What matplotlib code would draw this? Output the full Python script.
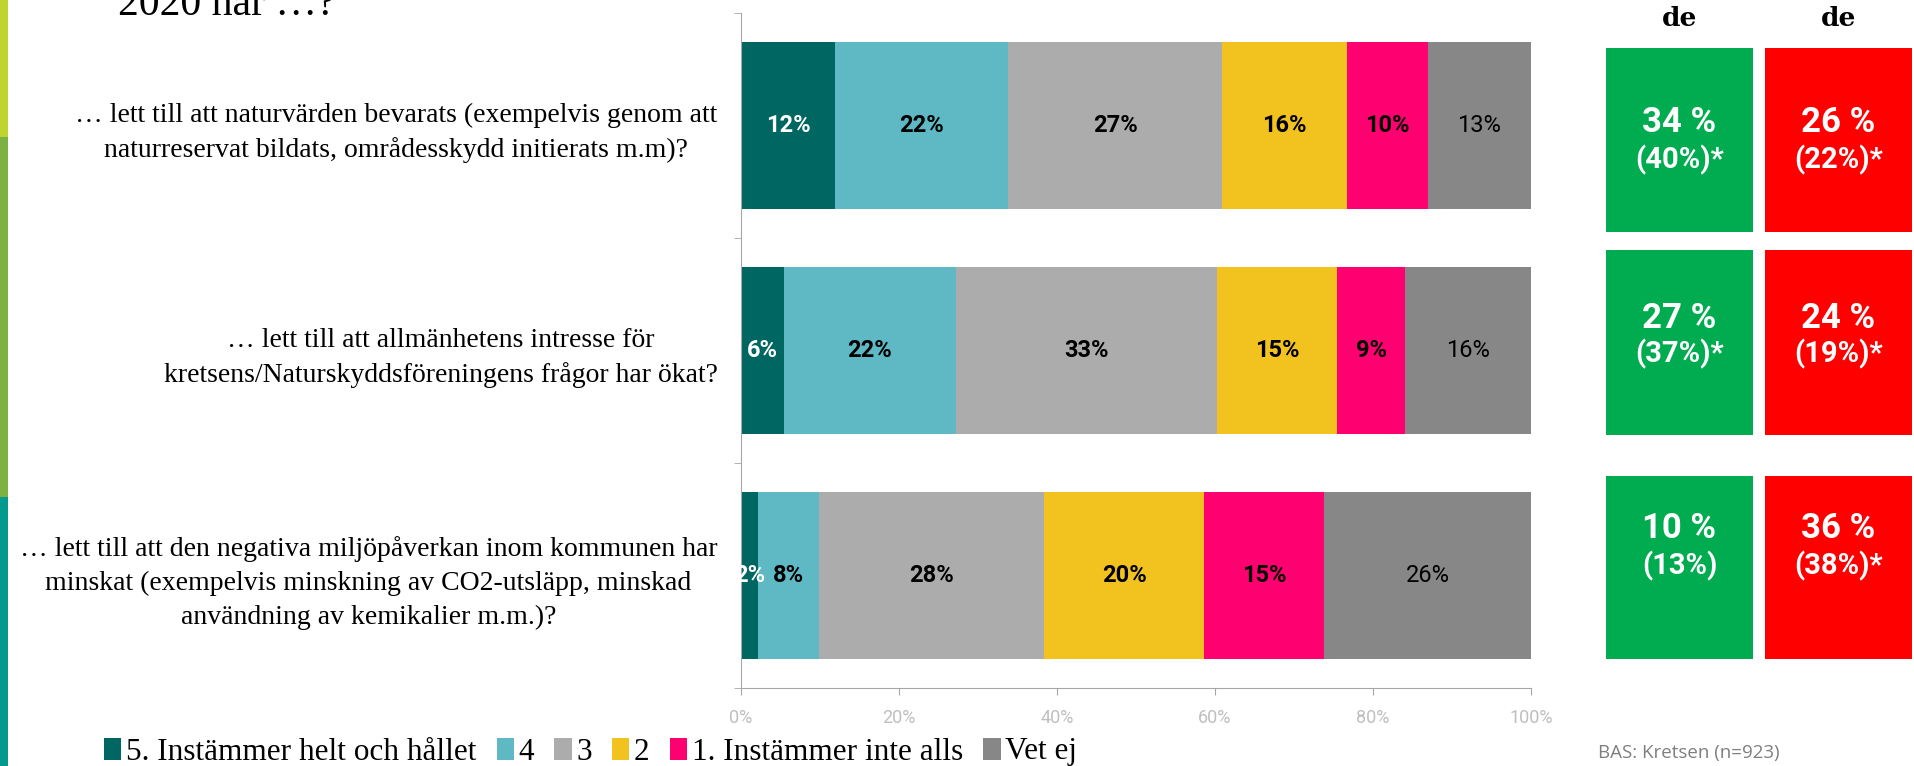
import matplotlib
matplotlib.use("Agg")
import matplotlib.pyplot as plt
from matplotlib.patches import Patch, Rectangle

# --- data ---------------------------------------------------------------
questions = [
    "… lett till att naturvärden bevarats (exempelvis genom att\nnaturreservat bildats, områdesskydd initierats m.m)?",
    "… lett till att allmänhetens intresse för\nkretsens/Naturskyddsföreningens frågor har ökat?",
    "… lett till att den negativa miljöpåverkan inom kommunen har\nminskat (exempelvis minskning av CO2-utsläpp, minskad\nanvändning av kemikalier m.m.)?",
]
series_names = ["5. Instämmer helt och hållet", "4", "3", "2",
                "1. Instämmer inte alls", "Vet ej"]
# shares per question (fraction of 1)
s5 = [0.119, 0.054, 0.022]
s4 = [0.219, 0.218, 0.077]
s3 = [0.271, 0.331, 0.285]
s2 = [0.158, 0.151, 0.202]
s1 = [0.102, 0.087, 0.152]
s_vet = [0.131, 0.159, 0.262]
# printed labels
lab5 = ["12%", "6%", "2%"]
lab4 = ["22%", "22%", "8%"]
lab3 = ["27%", "33%", "28%"]
lab2 = ["16%", "15%", "20%"]
lab1 = ["10%", "9%", "15%"]
lab_vet = ["13%", "16%", "26%"]

pos_now = ["34 %", "27 %", "10 %"]
pos_prev = ["(40%)*", "(37%)*", "(13%)"]
neg_now = ["26 %", "24 %", "36 %"]
neg_prev = ["(22%)*", "(19%)*", "(38%)*"]

x_ticks = [0, 0.2, 0.4, 0.6, 0.8, 1.0]
x_ticklabels = ["0%", "20%", "40%", "60%", "80%", "100%"]

colors = ["#006661", "#5eb9c4", "#acacac", "#f2c31f", "#ff0070", "#878787"]

W, H = 1914, 766


def fx(x):
    return x / W


def fy(y):
    return 1 - y / H


fig = plt.figure(figsize=(W / 100, H / 100), dpi=100)

# left decorative strip
for y0, y1, c in [(0, 137, "#c0d430"), (137, 497, "#7bb241"), (497, 766, "#009a8e")]:
    fig.add_artist(Rectangle((0, fy(y1)), fx(8), (y1 - y0) / H,
                             transform=fig.transFigure, color=c, lw=0))

# cut-off title (the reference is cropped at the top as well)
fig.text(fx(118), fy(15), "2020 har …?", fontsize=30,
         family="Liberation Serif", va="baseline", ha="left")

ax = fig.add_axes([fx(741), fy(688), (1531 - 741) / W, (688 - 13) / H])

series = [s5, s4, s3, s2, s1, s_vet]
labels = [lab5, lab4, lab3, lab2, lab1, lab_vet]
ypos = list(range(len(questions)))
left = [0.0] * len(questions)
for k, vals in enumerate(series):
    ax.barh(ypos, vals, left=left, height=0.74, color=colors[k],
            edgecolor="none", label=series_names[k])
    for i, v in enumerate(vals):
        txt_col = "white" if k == 0 else "black"
        weight = "normal" if k == 5 else "bold"
        ax.text(left[i] + v / 2, i, labels[k][i], ha="center", va="center",
                color=txt_col, fontsize=17, fontweight=weight, family="Roboto")
    left = [l + v for l, v in zip(left, vals)]

ax.set_xlim(0, 1)
ax.set_ylim(2.5, -0.5)
ax.set_xticks(x_ticks)
ax.set_xticklabels(x_ticklabels, color="#bfbfbf", fontsize=13, family="Roboto")
ax.set_yticks(ypos)
ax.set_yticklabels(questions, fontsize=20, family="Liberation Serif",
                   multialignment="center", linespacing=1.45)
ax.set_yticks([-0.5, 0.5, 1.5, 2.5], minor=True)
ax.tick_params(axis="y", which="major", length=0, pad=17)
ax.tick_params(axis="y", which="minor", length=5, color="#a6a6a6")
ax.tick_params(axis="x", length=5, color="#a6a6a6", pad=10)
for sp in ["top", "right"]:
    ax.spines[sp].set_visible(False)
for sp in ["left", "bottom"]:
    ax.spines[sp].set_color("#a6a6a6")

# legend
handles = [Patch(facecolor=c, edgecolor="none") for c in colors]
fig.legend(handles, series_names, loc="center left",
           bbox_to_anchor=(fx(104), fy(752)), ncol=6, frameon=False,
           prop={"family": "Liberation Serif", "size": 22.5},
           handlelength=0.55, handleheight=0.7, handletextpad=0.15,
           columnspacing=0.65, borderpad=0, borderaxespad=0)

fig.text(fx(1598), fy(753), "BAS: Kretsen (n=923)", fontsize=13.5,
         color="#7f7f7f", family="Open Sans", va="center")

# summary boxes
box_rows = [(48, 232, 122, 160), (250, 435, 318, 354), (476, 659, 529, 566)]
box_cols = [(1606, 1753, "#00ac4f", pos_now, pos_prev),
            (1765, 1912, "#ff0000", neg_now, neg_prev)]
for x0, x1, c, now, prev in box_cols:
    fig.text(fx((x0 + x1) / 2), fy(18), "de", ha="center", va="center",
             fontsize=19, fontweight="bold", family="DejaVu Serif")
    for i, (y0, y1, t1, t2) in enumerate(box_rows):
        fig.add_artist(Rectangle((fx(x0), fy(y1)), (x1 - x0) / W, (y1 - y0) / H,
                                 transform=fig.transFigure, color=c, lw=0))
        fig.text(fx((x0 + x1) / 2), fy(t1), now[i], ha="center", va="center",
                 color="white", fontsize=25, fontweight="bold", family="Roboto")
        fig.text(fx((x0 + x1) / 2), fy(t2), prev[i], ha="center", va="center",
                 color="white", fontsize=21, fontweight="bold", family="Roboto")

fig.savefig("out.png", dpi=100)
